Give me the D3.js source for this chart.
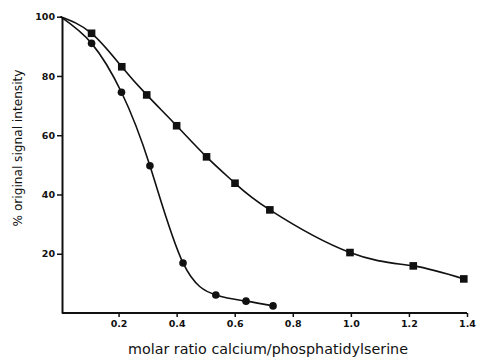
<!DOCTYPE html>
<html>
<head>
<meta charset="utf-8">
<script src="https://cdn.jsdelivr.net/npm/d3@7"></script>
<style>
  body { margin: 0; background: #fff; }
  svg { display: block; }
</style>
</head>
<body>
<svg id="chart" width="477" height="359"></svg>
<script>
// circles series (molar ratio, % signal)
const circleX = [0.107, 0.21, 0.308, 0.422, 0.535, 0.639, 0.732];
const circleY = [91, 74.5, 49.7, 16.9, 6.1, 4.0, 2.4];
// squares series
const squareX = [0.107, 0.211, 0.297, 0.40, 0.503, 0.601, 0.721, 0.997, 1.215, 1.389];
const squareY = [94.4, 83.1, 73.6, 63.2, 52.7, 43.8, 34.8, 20.4, 15.9, 11.5];
// both curves start at the origin of the scale (0, 100)
const startPoint = [0, 100];

const xTicks = [0.2, 0.4, 0.6, 0.8, 1.0, 1.2, 1.4];
const xTickLabels = ["0.2", "0.4", "0.6", "0.8", "1.0", "1.2", "1.4"];
const yTicks = [20, 40, 60, 80, 100];

const svg = d3.select("#chart");
const ink = "#111";

const x = d3.scaleLinear().domain([0, 1.4]).range([60.5, 467]);
const y = d3.scaleLinear().domain([0, 100]).range([313, 16.7]);

// axes
const xAxis = d3.axisBottom(x)
  .tickValues(xTicks)
  .tickFormat((d, i) => xTickLabels[i])
  .tickSize(4)
  .tickPadding(3)
  .tickSizeOuter(0);

const yAxis = d3.axisLeft(y)
  .tickValues(yTicks)
  .tickSize(5)
  .tickPadding(2)
  .tickSizeOuter(0);

const gx = svg.append("g")
  .attr("transform", `translate(0,${y(0)})`)
  .call(xAxis);
gx.select(".domain").attr("d", `M${x(0) + 1.5},0H${x(1.4)}`);

const gy = svg.append("g")
  .attr("transform", `translate(${x(0) + 1.5},0)`)
  .call(yAxis);

[gx, gy].forEach((g) => {
  g.select(".domain").attr("stroke", ink).attr("stroke-width", 2);
  g.selectAll(".tick line").attr("stroke", ink).attr("stroke-width", 1.5);
  g.selectAll(".tick text")
    .attr("fill", ink)
    .attr("font-family", "'DejaVu Sans', sans-serif")
    .attr("font-weight", "bold")
    .attr("font-size", 9.5);
});

// curves
const line = d3.line()
  .x((d) => x(d[0]))
  .y((d) => y(d[1]))
  .curve(d3.curveNatural);

const circlePts = [startPoint].concat(circleX.map((v, i) => [v, circleY[i]]));
const squarePts = [startPoint].concat(squareX.map((v, i) => [v, squareY[i]]));

svg.append("path")
  .datum(squarePts)
  .attr("d", line)
  .attr("fill", "none")
  .attr("stroke", ink)
  .attr("stroke-width", 1.6);

svg.append("path")
  .datum(circlePts)
  .attr("d", line)
  .attr("fill", "none")
  .attr("stroke", ink)
  .attr("stroke-width", 1.6);

// markers
svg.append("g")
  .selectAll("rect")
  .data(squarePts.slice(1))
  .join("rect")
  .attr("x", (d) => x(d[0]) - 3.8)
  .attr("y", (d) => y(d[1]) - 3.8)
  .attr("width", 7.6)
  .attr("height", 7.6)
  .attr("fill", ink);

svg.append("g")
  .selectAll("circle")
  .data(circlePts.slice(1))
  .join("circle")
  .attr("cx", (d) => x(d[0]))
  .attr("cy", (d) => y(d[1]))
  .attr("r", 3.8)
  .attr("fill", ink);

// axis titles
svg.append("text")
  .attr("x", 268)
  .attr("y", 354)
  .attr("text-anchor", "middle")
  .attr("font-family", "'DejaVu Sans', sans-serif")
  .attr("font-size", 13.5)
  .attr("textLength", 280)
  .attr("lengthAdjust", "spacingAndGlyphs")
  .attr("fill", ink)
  .text("molar ratio calcium/phosphatidylserine");

svg.append("text")
  .attr("transform", "translate(22,148) rotate(-90)")
  .attr("text-anchor", "middle")
  .attr("font-family", "'DejaVu Sans', sans-serif")
  .attr("font-size", 12.5)
  .attr("textLength", 157)
  .attr("lengthAdjust", "spacingAndGlyphs")
  .attr("fill", ink)
  .text("% original signal intensity");
</script>
</body>
</html>
